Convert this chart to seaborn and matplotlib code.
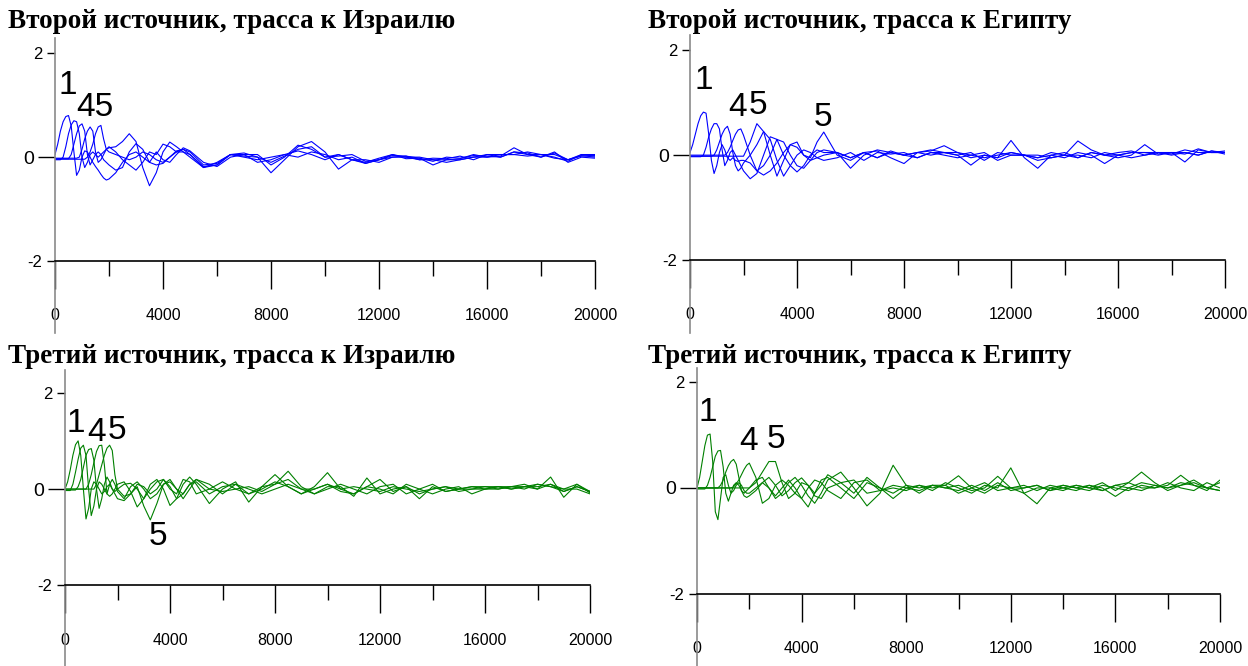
import numpy as np
import pandas as pd
import matplotlib.pyplot as plt
import seaborn as sns
from matplotlib.ticker import FixedLocator, FixedFormatter

# ---------------- data ----------------
# common time grid of the traces
T = [0, 100, 200, 300, 400, 500, 600, 700, 800, 900, 1000,
     1100, 1200, 1300, 1400, 1500, 1600, 1700, 1800, 1900, 2000,
     2250, 2500, 2750, 3000, 3250, 3500, 3750, 4000, 4250, 4500, 4750, 5000,
     5500, 6000, 6500, 7000, 7500, 8000, 8500, 9000, 9500, 10000,
     10500, 11000, 11500, 12000, 12500, 13000, 13500, 14000, 14500, 15000,
     15500, 16000, 16500, 17000, 17500, 18000, 18500, 19000, 19500, 20000]

# второй источник, трасса к Израилю
s2_isr_1 = ([0.05, 0.25, 0.5, 0.68, 0.78, 0.8, 0.6, 0.1, -0.35, -0.25, 0.0, 0.12, 0.1, 0.0, -0.1, -0.18, -0.25, -0.33, -0.4, -0.44, -0.42]
            + [-0.3, -0.1, 0.05, 0.1, 0.0, -0.1, -0.15, -0.12, 0.0, 0.12, 0.15, 0.1]
            + [-0.15, -0.12, 0.05, 0.05, -0.1, -0.05, 0.05, 0.12, 0.05, -0.05,
               0.05, -0.05, -0.12, -0.05, 0.05, 0.0, -0.05, -0.05, -0.1, -0.05,
               0.0, 0.05, 0.0, 0.1, 0.05, 0.05, 0.0, -0.08, 0.05, 0.02])
s2_isr_2 = ([-0.05, -0.05, -0.05, 0.0, 0.2, 0.45, 0.62, 0.7, 0.68, 0.45, 0.0, -0.2, -0.1, 0.05, 0.1, 0.05, 0.0, 0.05, 0.1, 0.15, 0.18]
            + [0.2, 0.3, 0.45, 0.3, -0.2, -0.55, -0.3, 0.1, 0.29, 0.2, 0.1, 0.0]
            + [-0.2, -0.1, 0.05, 0.08, 0.0, -0.3, -0.05, 0.2, 0.3, 0.1,
               -0.23, -0.05, -0.1, -0.02, 0.05, -0.03, -0.02, -0.15, -0.05, -0.03,
               0.05, 0.0, 0.02, 0.18, 0.05, 0.0, 0.1, -0.1, 0.0, -0.02])
s2_isr_3 = ([-0.03] * 6 + [0.05, 0.25, 0.45, 0.6, 0.64, 0.5, 0.05, -0.15, -0.05, 0.05, 0.1, 0.05, -0.05, -0.1, -0.15]
            + [-0.25, -0.2, 0.1, 0.26, 0.15, -0.1, 0.1, -0.05, -0.1, 0.05, 0.18, 0.12]
            + [-0.1, -0.18, 0.0, 0.05, 0.05, -0.15, 0.0, 0.23, 0.15, 0.0,
               0.05, -0.05, -0.05, -0.1, 0.0, 0.02, -0.05, -0.02, -0.03, 0.02,
               -0.05, 0.05, 0.05, 0.05, 0.1, 0.05, 0.05, -0.05, 0.05, 0.05])
s2_isr_4 = ([-0.02] * 9 + [0.0, 0.15, 0.35, 0.5, 0.58, 0.5, 0.1, -0.1, -0.05, 0.05, 0.15, 0.2]
            + [0.1, -0.05, -0.15, -0.25, -0.1, 0.1, 0.05, 0.25, 0.2, 0.1, 0.15, 0.05]
            + [-0.2, -0.15, 0.05, 0.0, -0.05, 0.0, 0.05, 0.0, 0.1, 0.05,
               -0.05, 0.0, -0.12, -0.05, 0.0, 0.0, 0.0, -0.05, -0.05, -0.05,
               0.0, 0.0, 0.05, 0.05, 0.02, 0.05, -0.02, -0.05, 0.02, 0.03])
s2_isr_5 = ([-0.04] * 12 + [0.0, 0.1, 0.25, 0.45, 0.58, 0.61, 0.35, 0.15, 0.1]
            + [0.05, 0.0, -0.05, 0.0, 0.1, 0.05, -0.05, -0.1, 0.0, 0.1, 0.1, 0.05]
            + [-0.18, -0.15, 0.05, 0.02, 0.0, -0.1, 0.02, 0.15, 0.2, 0.0,
               0.02, 0.05, -0.08, -0.05, 0.03, 0.02, -0.02, -0.08, 0.0, -0.02,
               0.03, 0.02, 0.0, 0.1, 0.08, 0.0, 0.08, -0.05, 0.03, 0.0])

# второй источник, трасса к Египту
s2_egy_1 = ([0.05, 0.2, 0.4, 0.6, 0.75, 0.82, 0.8, 0.4, -0.1, -0.35, -0.2, 0.05, 0.2, 0.1, -0.05, -0.1, -0.05, -0.1, -0.12, -0.1, -0.1]
            + [-0.15, -0.3, -0.38, -0.3, -0.15, 0.05, 0.2, 0.15, 0.0, -0.1, -0.05, 0.0]
            + [0.05, -0.05, 0.05, 0.08, -0.05, -0.16, 0.05, 0.1, 0.05, 0.0,
               -0.19, 0.0, -0.05, 0.28, -0.05, -0.25, 0.0, -0.05, 0.05, 0.0,
               -0.16, 0.0, 0.05, 0.05, 0.05, 0.02, 0.1, 0.05, 0.05, 0.05])
s2_egy_2 = ([-0.03] * 5 + [0.0, 0.15, 0.35, 0.5, 0.6, 0.6, 0.5, 0.1, -0.2, -0.1, 0.05, 0.1, 0.0, -0.1, -0.2, -0.3]
            + [-0.45, -0.35, 0.0, 0.35, 0.3, 0.0, -0.2, -0.32, -0.2, 0.0, 0.1, 0.05]
            + [0.05, -0.25, 0.0, 0.1, 0.05, 0.0, 0.05, 0.08, 0.18, 0.05,
               0.0, -0.05, 0.0, 0.05, 0.0, -0.1, -0.05, 0.0, 0.27, 0.1,
               0.0, -0.05, 0.0, 0.2, 0.02, 0.05, -0.13, 0.1, 0.05, 0.05])
s2_egy_3 = ([-0.02] * 9 + [0.0, 0.1, 0.25, 0.4, 0.5, 0.55, 0.4, 0.05, -0.2, -0.3, -0.25, -0.15]
            + [0.0, 0.2, 0.45, 0.3, -0.1, -0.4, -0.2, 0.0, 0.1, 0.05, -0.05, -0.1]
            + [-0.05, 0.05, -0.1, 0.05, 0.02, 0.05, -0.05, 0.05, 0.05, 0.0,
               0.05, -0.1, 0.05, 0.0, 0.0, -0.05, 0.0, 0.05, -0.05, 0.05,
               0.0, 0.05, 0.08, 0.0, 0.05, 0.05, 0.05, 0.0, 0.08, 0.02])
s2_egy_4 = ([0.0] * 14 + [0.05, 0.15, 0.28, 0.4, 0.48, 0.5, 0.38]
            + [0.0, -0.3, -0.2, 0.0, 0.3, 0.25, 0.0, -0.2, -0.25, -0.1, 0.05, 0.1]
            + [0.05, -0.05, 0.05, -0.05, 0.05, 0.0, 0.05, 0.0, 0.05, 0.05,
               -0.05, 0.0, -0.05, 0.05, 0.0, -0.05, 0.05, 0.0, -0.05, 0.05,
               0.0, 0.0, 0.05, 0.05, 0.0, 0.05, 0.02, 0.12, 0.05, 0.08])
s2_egy_5 = ([-0.02] * 21
            + [0.25, 0.6, 0.45, 0.0, -0.4, -0.1, 0.2, 0.25, 0.0, -0.05, 0.25, 0.44]
            + [0.0, -0.1, 0.05, -0.05, 0.08, 0.0, -0.05, 0.05, 0.0, -0.05,
               0.0, 0.05, -0.1, 0.0, 0.0, 0.0, -0.05, 0.0, 0.0, -0.05,
               0.05, 0.0, -0.05, 0.0, 0.05, 0.0, 0.05, 0.0, 0.08, 0.05])

# третий источник, трасса к Израилю
s3_isr_1 = ([0.0, 0.15, 0.4, 0.7, 0.92, 1.0, 0.7, 0.0, -0.62, -0.4, 0.0, 0.15, 0.1, 0.0, -0.1, -0.05, 0.05, 0.1, 0.0, -0.1, -0.2]
            + [-0.24, -0.1, 0.1, 0.05, -0.1, 0.0, 0.2, 0.05, -0.2, -0.1, 0.1, 0.15]
            + [-0.1, 0.05, 0.1, -0.1, 0.0, 0.15, 0.05, -0.1, 0.0, 0.1,
               -0.05, -0.1, 0.05, 0.0, -0.1, 0.1, 0.0, -0.1, 0.0, 0.05,
               -0.1, 0.0, 0.05, 0.0, 0.05, 0.0, 0.1, -0.05, 0.05, -0.05])
s3_isr_2 = ([-0.03, -0.03, -0.03, 0.1, 0.35, 0.62, 0.85, 0.91, 0.7, 0.0, -0.55, -0.35, 0.0, 0.15, 0.1, 0.0, -0.1, -0.15, -0.1, 0.0, 0.1]
            + [0.15, -0.05, -0.37, -0.2, 0.1, 0.2, 0.0, -0.34, -0.2, 0.1, 0.25, 0.1]
            + [-0.3, 0.0, 0.15, -0.27, 0.05, 0.1, 0.37, 0.05, -0.1, 0.05,
               0.05, -0.15, 0.23, -0.1, 0.0, 0.05, -0.2, 0.05, -0.05, 0.0,
               0.05, 0.05, 0.0, 0.05, 0.1, 0.0, 0.25, -0.17, 0.1, -0.08])
s3_isr_3 = ([-0.02] * 5 + [0.05, 0.2, 0.45, 0.7, 0.82, 0.84, 0.6, 0.0, -0.4, -0.2, 0.1, 0.25, 0.15, 0.0, -0.05, 0.0]
            + [0.1, 0.12, 0.0, -0.2, 0.0, 0.15, 0.2, 0.0, -0.1, 0.2, 0.15, -0.1]
            + [0.0, 0.15, 0.0, -0.1, 0.05, 0.3, 0.05, -0.1, 0.05, 0.34,
               0.0, -0.1, 0.05, 0.2, -0.05, 0.05, -0.1, 0.0, 0.05, -0.05,
               0.0, 0.05, 0.05, 0.0, 0.05, 0.1, 0.05, 0.0, 0.0, -0.1])
s3_isr_4 = ([0.0] * 9 + [0.1, 0.3, 0.55, 0.78, 0.9, 0.91, 0.5, -0.1, 0.1, 0.2, 0.1, -0.05]
            + [-0.2, 0.05, 0.15, 0.0, -0.2, -0.1, 0.1, 0.15, 0.0, -0.2, 0.0, 0.2]
            + [0.1, -0.1, 0.1, 0.0, -0.1, 0.0, 0.1, 0.0, -0.1, 0.0,
               0.1, 0.0, -0.1, 0.05, 0.1, -0.1, 0.0, 0.1, -0.05, 0.0,
               0.05, 0.0, 0.05, 0.05, 0.0, 0.1, 0.05, -0.05, 0.05, -0.05])
s3_isr_5 = ([0.0] * 12 + [0.1, 0.3, 0.5, 0.7, 0.85, 0.91, 0.8, 0.3, 0.0]
            + [-0.15, -0.1, 0.05, -0.35, -0.64, -0.3, 0.1, 0.2, 0.0, -0.1, 0.1, 0.2]
            + [0.0, -0.05, 0.0, 0.05, -0.05, 0.1, 0.2, 0.0, 0.0, 0.1,
               0.0, 0.05, 0.0, -0.05, 0.05, 0.0, -0.05, 0.0, 0.05, 0.0,
               0.0, 0.0, 0.0, 0.05, 0.05, 0.05, 0.1, 0.0, 0.1, -0.05])

# третий источник, трасса к Египту
s3_egy_1 = ([0.0, 0.2, 0.5, 0.8, 1.0, 1.02, 0.5, -0.45, -0.6, -0.2, 0.2, 0.25, 0.05, -0.1, -0.05, 0.05, 0.1, 0.05, -0.05, -0.1, -0.1]
            + [0.0, 0.1, 0.0, -0.15, 0.0, 0.15, 0.0, -0.2, -0.36, -0.1, 0.15, 0.2]
            + [0.0, -0.2, 0.1, 0.0, -0.1, 0.05, 0.0, 0.05, 0.0, 0.05,
               -0.05, 0.0, 0.22, 0.0, -0.1, 0.0, 0.0, -0.05, 0.05, 0.0,
               0.1, -0.05, 0.1, 0.3, 0.1, -0.05, 0.05, 0.1, 0.0, -0.05])
s3_egy_2 = ([-0.02] * 4 + [0.05, 0.2, 0.4, 0.6, 0.7, 0.71, 0.4, -0.1, -0.25, -0.1, 0.05, 0.1, 0.05, -0.05, -0.1, -0.05, 0.0]
            + [0.15, 0.2, 0.0, -0.2, -0.1, 0.1, 0.2, 0.05, -0.15, -0.29, -0.1, 0.15]
            + [0.3, 0.0, -0.34, -0.1, 0.43, 0.05, -0.1, 0.05, 0.05, -0.1,
               0.0, 0.1, -0.05, 0.0, 0.05, -0.05, 0.05, 0.0, -0.05, 0.05,
               0.0, -0.16, 0.0, 0.1, 0.05, 0.0, 0.1, 0.05, 0.0, 0.1])
s3_egy_3 = ([0.0] * 9 + [0.05, 0.15, 0.3, 0.42, 0.5, 0.54, 0.45, 0.2, -0.05, -0.15, -0.18, -0.15]
            + [-0.05, 0.1, 0.2, 0.05, -0.15, -0.05, 0.1, 0.19, 0.05, -0.1, 0.05, 0.25]
            + [0.1, -0.1, 0.2, 0.0, -0.2, 0.0, 0.05, -0.05, 0.1, 0.0,
               -0.1, 0.05, 0.0, 0.38, -0.1, -0.3, 0.0, 0.05, 0.0, 0.05,
               -0.05, 0.05, 0.1, 0.0, 0.0, 0.1, 0.0, -0.05, 0.1, 0.0])
s3_egy_4 = ([0.0] * 14 + [0.02, 0.08, 0.15, 0.25, 0.35, 0.43, 0.47]
            + [0.2, -0.29, -0.2, 0.05, 0.15, 0.05, -0.1, -0.2, 0.0, 0.15, 0.1, -0.05]
            + [-0.2, 0.1, 0.15, -0.05, 0.0, -0.05, 0.05, 0.0, 0.05, 0.23,
               0.0, -0.1, 0.05, 0.0, 0.0, 0.05, -0.05, 0.05, 0.0, -0.05,
               0.05, 0.0, -0.05, 0.05, 0.0, 0.05, 0.24, 0.05, -0.05, 0.15])
s3_egy_5 = ([0.0] * 21
            + [0.1, 0.3, 0.5, 0.5, 0.1, -0.2, -0.1, 0.1, 0.05, -0.15, -0.2, 0.0]
            + [0.1, 0.15, -0.1, -0.05, 0.05, 0.0, -0.05, 0.05, 0.0, -0.05,
               0.05, -0.05, 0.1, -0.05, 0.0, 0.05, -0.05, 0.0, 0.05, 0.0,
               -0.05, 0.05, 0.0, -0.05, 0.05, 0.0, 0.05, 0.15, 0.0, -0.05])

titles = ["Второй источник, трасса к Израилю", "Второй источник, трасса к Египту",
          "Третий источник, трасса к Израилю", "Третий источник, трасса к Египту"]

# номера трасс, подписанные на графиках: (текст, время, амплитуда)
marks_s2_isr = [("1", 480, 1.37), ("45", 1480, 0.96)]
marks_s2_egy = [("1", 524, 1.43), ("4", 1795, 0.91), ("5", 2543, 0.95), ("5", 4974, 0.72)]
marks_s3_isr = [("1", 419, 1.35), ("4", 1219, 1.18), ("5", 1981, 1.22), ("5", 3543, -0.99)]
marks_s3_egy = [("1", 420, 1.42), ("4", 1986, 0.87), ("5", 3018, 0.91)]

x_major = [0, 4000, 8000, 12000, 16000, 20000]
x_minor = [2000, 6000, 10000, 14000, 18000]

# ---------------- layout ----------------
W, H = 1248, 666
BLUE = "#0000ff"
GREEN = "#008000"
SANS = ['Liberation Sans', 'DejaVu Sans']

panels = [
    dict(traces=[s2_isr_1, s2_isr_2, s2_isr_3, s2_isr_4, s2_isr_5], marks=marks_s2_isr,
         color=BLUE, box=(55, 38, 540, 333), ylim=(-3.38, 2.29), title_at=(8, 21)),
    dict(traces=[s2_egy_1, s2_egy_2, s2_egy_3, s2_egy_4, s2_egy_5], marks=marks_s2_egy,
         color=BLUE, box=(690, 35, 535, 333), ylim=(-3.39, 2.29), title_at=(648, 21)),
    dict(traces=[s3_isr_1, s3_isr_2, s3_isr_3, s3_isr_4, s3_isr_5], marks=marks_s3_isr,
         color=GREEN, box=(65, 370, 525, 666), ylim=(-3.67, 2.47), title_at=(8, 356)),
    dict(traces=[s3_egy_1, s3_egy_2, s3_egy_3, s3_egy_4, s3_egy_5], marks=marks_s3_egy,
         color=GREEN, box=(697, 368, 523, 666), ylim=(-3.37, 2.27), title_at=(648, 356)),
]

sns.set_style("white")
plt.rcParams['font.family'] = SANS
plt.rcParams['text.color'] = 'black'
plt.rcParams['xtick.color'] = 'black'
plt.rcParams['ytick.color'] = 'black'
plt.rcParams['axes.unicode_minus'] = False

fig = plt.figure(figsize=(W / 100, H / 100), dpi=100)

for title, p in zip(titles, panels):
    left, top, width, bottom = p['box']
    ax = fig.add_axes([left / W, 1 - bottom / H, width / W, (bottom - top) / H])

    rows = []
    for k, tr in enumerate(p['traces']):
        assert len(tr) == len(T)
        rows.append(pd.DataFrame({'t': T, 'amp': tr, 'trace': k + 1}))
    df = pd.concat(rows, ignore_index=True)

    sns.lineplot(data=df, x='t', y='amp', units='trace', estimator=None,
                 color=p['color'], lw=0.8, ax=ax, legend=False)

    ax.set_xlim(0, 20000)
    ax.set_ylim(*p['ylim'])
    ax.set_xlabel("")
    ax.set_ylabel("")
    ax.set_facecolor('none')

    for s in ['top', 'right']:
        ax.spines[s].set_visible(False)
    ax.spines['bottom'].set_position(('data', -2))
    ax.spines['bottom'].set_color('black')
    ax.spines['bottom'].set_linewidth(1.2)
    ax.spines['left'].set_color('#8a8a8a')
    ax.spines['left'].set_linewidth(1.2)

    ax.xaxis.set_major_locator(FixedLocator(x_major))
    ax.xaxis.set_major_formatter(FixedFormatter([str(v) for v in x_major]))
    ax.xaxis.set_minor_locator(FixedLocator(x_minor))
    ax.tick_params(axis='x', which='major', bottom=True, direction='out', length=20, width=1,
                   color='black', pad=14, labelsize=11.5, labelcolor='black')
    ax.tick_params(axis='x', which='minor', bottom=True, direction='out', length=11, width=1,
                   color='black')

    ax.yaxis.set_major_locator(FixedLocator([-2, 2]))
    ax.yaxis.set_major_formatter(FixedFormatter(['-2', '2']))
    ax.yaxis.set_minor_locator(FixedLocator([0]))
    ax.yaxis.set_minor_formatter(FixedFormatter(['0']))
    ax.tick_params(axis='y', which='major', left=True, direction='out', length=6, width=1,
                   color='black', pad=3, labelsize=12, labelcolor='black')
    ax.tick_params(axis='y', which='minor', left=True, direction='out', length=12, width=1,
                   color='black', pad=3, labelsize=14, labelcolor='black')

    for txt, tx, ty in p['marks']:
        ax.text(tx, ty, txt, fontsize=24, ha='center', va='center',
                family=SANS, color='black')

    fig.text(p['title_at'][0] / W, 1 - p['title_at'][1] / H, title,
             family='Liberation Serif', fontweight='bold', fontsize=19.5,
             ha='left', va='center', color='black')

plt.savefig("out.png", dpi=100)
